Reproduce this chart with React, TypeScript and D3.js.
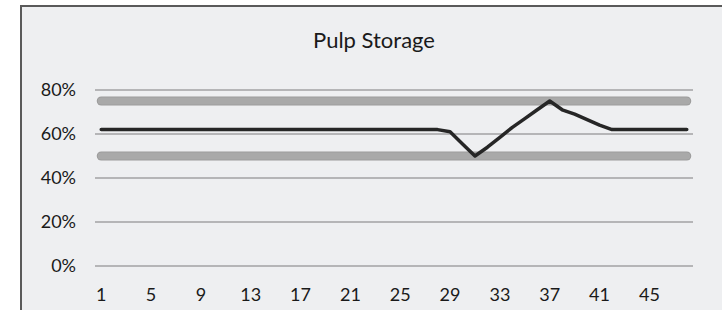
import React, { useRef, useEffect } from 'react';
import * as d3 from 'd3';

// days 1..48
const days = d3.range(1, 49);
// storage level (%)
const storage = [
  62, 62, 62, 62, 62, 62, 62, 62, 62, 62, 62, 62, 62, 62, 62, 62,
  62, 62, 62, 62, 62, 62, 62, 62, 62, 62, 62, 62, 61, 55.5, 50, 54,
  58.5, 63, 67, 71, 75, 71, 69, 66.5, 64, 62, 62, 62, 62, 62, 62, 62,
];
const upperLimit = days.map(() => 75);
const lowerLimit = days.map(() => 50);
const yTicks = [0, 20, 40, 60, 80];
const xTickLabels = days.filter((d) => (d - 1) % 4 === 0 && d <= 45);

function App() {
  const canvas = useRef<HTMLDivElement>(null);

  useEffect(() => {
    const W = 722;
    const H = 310;
    const margin = { top: 90, right: 29, bottom: 44, left: 95 };
    const font = 'Lato, "Open Sans", sans-serif';

    d3.select(canvas.current).select('svg').remove();

    const svg = d3
      .select(canvas.current)
      .append('svg')
      .attr('width', W)
      .attr('height', H)
      .style('display', 'block');

    // outside area white, frame with light fill
    svg.append('rect').attr('width', W).attr('height', H).attr('fill', '#ffffff');
    svg
      .append('rect')
      .attr('x', 21)
      .attr('y', 6)
      .attr('width', W)
      .attr('height', H)
      .attr('fill', '#eeeff1')
      .attr('stroke', '#5a5a5a')
      .attr('stroke-width', 2);

    const x = d3
      .scaleBand<number>()
      .domain(days)
      .range([margin.left, W - margin.right]);
    const cx = (d: number) => (x(d) as number) + x.bandwidth() / 2;

    const y = d3
      .scaleLinear()
      .domain([0, 80])
      .range([H - margin.bottom, margin.top]);

    // gridlines
    svg
      .append('g')
      .selectAll('line')
      .data(yTicks)
      .enter()
      .append('line')
      .attr('x1', margin.left)
      .attr('x2', W - margin.right)
      .attr('y1', (d) => y(d))
      .attr('y2', (d) => y(d))
      .attr('stroke', '#b5b5b7')
      .attr('stroke-width', 2);

    // y labels
    svg
      .append('g')
      .selectAll('text')
      .data(yTicks)
      .enter()
      .append('text')
      .attr('x', 76)
      .attr('y', (d) => y(d))
      .attr('dy', '0.35em')
      .attr('text-anchor', 'end')
      .attr('font-family', font)
      .attr('font-size', 18)
      .attr('fill', '#1a1a1a')
      .text((d) => d + '%');

    // x labels
    svg
      .append('g')
      .selectAll('text')
      .data(xTickLabels)
      .enter()
      .append('text')
      .attr('x', (d) => cx(d))
      .attr('y', 301)
      .attr('text-anchor', 'middle')
      .attr('font-family', font)
      .attr('font-size', 18)
      .attr('fill', '#1a1a1a')
      .text((d) => d);

    const line = d3
      .line<number>()
      .x((_, i) => cx(days[i]))
      .y((d) => y(d));

    // limit bands
    [upperLimit, lowerLimit].forEach((series) => {
      svg
        .append('path')
        .datum(series)
        .attr('d', line)
        .attr('fill', 'none')
        .attr('stroke', '#9c9c9c')
        .attr('stroke-width', 9)
        .attr('stroke-linecap', 'round');
      svg
        .append('path')
        .datum(series)
        .attr('d', line)
        .attr('fill', 'none')
        .attr('stroke', '#a9a9a9')
        .attr('stroke-width', 7)
        .attr('stroke-linecap', 'round');
    });

    // storage line
    svg
      .append('path')
      .datum(storage)
      .attr('d', line)
      .attr('fill', 'none')
      .attr('stroke', '#262626')
      .attr('stroke-width', 3.5)
      .attr('stroke-linejoin', 'round')
      .attr('stroke-linecap', 'round');

    // title
    svg
      .append('text')
      .attr('x', 374)
      .attr('y', 48)
      .attr('text-anchor', 'middle')
      .attr('font-family', font)
      .attr('font-size', 22)
      .attr('fill', '#1a1a1a')
      .text('Pulp Storage');
  }, []);

  return <div ref={canvas} style={{ position: 'absolute', left: 0, top: 0 }}></div>;
}

export default App;
